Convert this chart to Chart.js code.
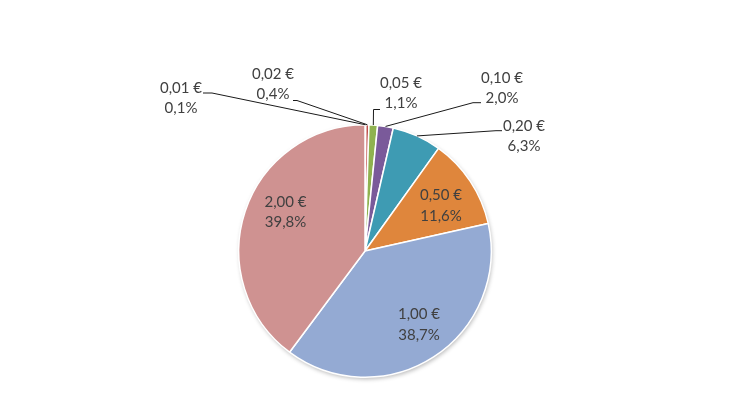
<!DOCTYPE html>
<html>
<head>
<meta charset="utf-8">
<script src="https://cdn.jsdelivr.net/npm/chart.js@4/dist/chart.umd.min.js"></script>
<style>
    html, body { margin: 0; padding: 0; background: #fff; }
    #wrap { width: 730px; height: 410px; }
</style>
</head>
<body>
<div id="wrap"><canvas id="coinChart"></canvas></div>
<script>
const coins = ['0,01 €', '0,02 €', '0,05 €', '0,10 €', '0,20 €', '0,50 €', '1,00 €', '2,00 €'];
const shares = [0.1, 0.4, 1.1, 2.0, 6.3, 11.6, 38.7, 39.8];
const sliceColors = ['#E9D2D1', '#C0504D', '#8FB24F', '#7A5A9A', '#3E9BB3', '#DF863C', '#94AAD3', '#CF9291'];

// where Excel put the labels (text centre, leader start, leader elbow), relative to the pie centre
const labelSpots = {
    0: { text: [-184, -153], start: [-162, -158], elbow: [-153, -158] },
    1: { text: [-92, -167], start: [-72, -150.5], elbow: [-68, -150.5] },
    2: { text: [36, -158], start: [15, -141.5], elbow: [8.5, -141.5] },
    3: { text: [137, -163], start: [116, -148.3], elbow: [108, -148.3] },
    4: { text: [159, -115], start: [137, -120.3], elbow: [131, -120.3] },
    5: { text: [76, -45.5] },
    6: { text: [54, 73.5] },
    7: { text: [-79.5, -39.3] }
};

const fmtPct = v => v.toFixed(1).replace('.', ',') + '%';

const shadowPlugin = {
    id: 'pieShadow',
    beforeDatasetsDraw(chart) {
        const arc = chart.getDatasetMeta(0).data[0];
        if (!arc) return;
        const ctx = chart.ctx;
        ctx.save();
        ctx.shadowColor = 'rgba(0,0,0,0.28)';
        ctx.shadowBlur = 4;
        ctx.shadowOffsetX = 1;
        ctx.shadowOffsetY = 2;
        ctx.fillStyle = '#fff';
        ctx.beginPath();
        ctx.arc(arc.x, arc.y, arc.outerRadius, 0, Math.PI * 2);
        ctx.fill();
        ctx.restore();
    }
};

const labelPlugin = {
    id: 'sliceLabels',
    afterDatasetsDraw(chart) {
        const ctx = chart.ctx;
        const meta = chart.getDatasetMeta(0);
        ctx.save();
        ctx.font = '15px Lato, "Open Sans", sans-serif';
        ctx.textAlign = 'center';
        ctx.textBaseline = 'middle';
        meta.data.forEach((arc, i) => {
            const mid = (arc.startAngle + arc.endAngle) / 2;
            const cx = arc.x, cy = arc.y, r = arc.outerRadius;
            const spot = labelSpots[i];
            let tx = cx + Math.cos(mid) * r * 0.71;
            let ty = cy + Math.sin(mid) * r * 0.71;
            if (spot) {
                tx = cx + spot.text[0];
                ty = cy + spot.text[1];
            }
            if (spot && spot.start) {
                ctx.strokeStyle = '#1a1a1a';
                ctx.lineWidth = 1;
                ctx.beginPath();
                ctx.moveTo(cx + spot.start[0], cy + spot.start[1]);
                ctx.lineTo(cx + spot.elbow[0], cy + spot.elbow[1]);
                ctx.lineTo(cx + Math.cos(mid) * r, cy + Math.sin(mid) * r);
                ctx.stroke();
            }
            ctx.fillStyle = '#404040';
            ctx.fillText(coins[i], tx, ty - 10);
            ctx.fillText(fmtPct(shares[i]), tx, ty + 10.5);
        });
        ctx.restore();
    }
};

document.addEventListener('DOMContentLoaded', function () {
    const ctx = document.getElementById('coinChart').getContext('2d');
    new Chart(ctx, {
        type: 'pie',
        data: {
            labels: coins,
            datasets: [{
                data: shares,
                backgroundColor: sliceColors,
                borderColor: '#ffffff',
                borderWidth: 1.5
            }]
        },
        options: {
            responsive: true,
            maintainAspectRatio: false,
            animation: false,
            layout: { padding: { top: 124, bottom: 32, left: 200, right: 200 } },
            plugins: {
                legend: { display: false },
                tooltip: { enabled: false }
            }
        },
        plugins: [shadowPlugin, labelPlugin]
    });
});
</script>
</body>
</html>
